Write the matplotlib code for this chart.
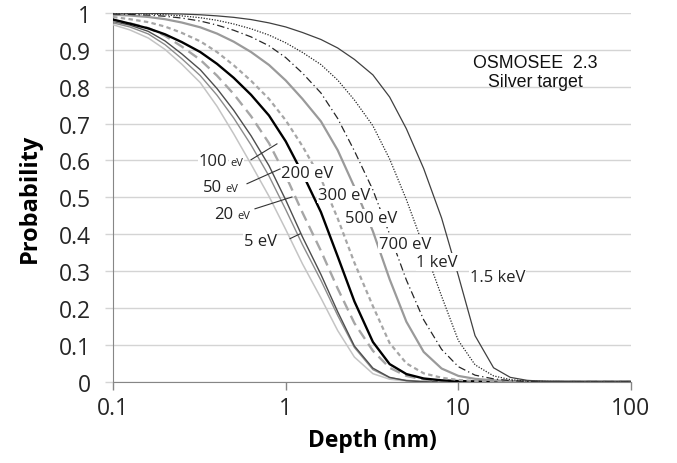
import matplotlib
matplotlib.use("Agg")
import matplotlib.pyplot as plt

# Profondeur (nm) où les valeurs ont été lues (pas de ~0.1 décade)
depth = [0.1, 0.125, 0.16, 0.2, 0.25, 0.32, 0.4, 0.5, 0.63, 0.8, 1, 1.25, 1.6, 2, 2.5,
         3.2, 4, 5, 6.3, 8, 10, 12.5, 16, 20, 25, 32, 50, 100]

# Probabilité pour chaque énergie
p_5 = [0.968, 0.954, 0.932, 0.901, 0.861, 0.811, 0.747, 0.672, 0.59, 0.503, 0.413, 0.32, 0.227, 0.139,
       0.067, 0.022, 0.007, 0.002, 0, 0, 0, 0, 0, 0, 0, 0, 0, 0]
p_20 = [0.973, 0.962, 0.943, 0.914, 0.876, 0.83, 0.777, 0.715, 0.642, 0.558, 0.467, 0.372, 0.275, 0.18,
        0.093, 0.033, 0.011, 0.004, 0.001, 0, 0, 0, 0, 0, 0, 0, 0, 0]
p_50 = [0.977, 0.967, 0.95, 0.924, 0.889, 0.846, 0.795, 0.736, 0.667, 0.586, 0.493, 0.393, 0.291, 0.19,
        0.097, 0.037, 0.012, 0.003, 0, 0, 0, 0, 0, 0, 0, 0, 0, 0]
p_100 = [0.98, 0.972, 0.959, 0.938, 0.909, 0.873, 0.83, 0.78, 0.72, 0.647, 0.559, 0.459, 0.355, 0.253,
         0.159, 0.084, 0.038, 0.016, 0.006, 0.002, 0, 0, 0, 0, 0, 0, 0, 0]
p_200 = [0.982, 0.971, 0.958, 0.942, 0.921, 0.894, 0.862, 0.824, 0.778, 0.722, 0.652, 0.565, 0.46, 0.34,
         0.218, 0.108, 0.048, 0.021, 0.009, 0.004, 0.002, 0.001, 0, 0, 0, 0, 0, 0]
p_300 = [0.989, 0.983, 0.975, 0.963, 0.946, 0.923, 0.894, 0.858, 0.816, 0.767, 0.709, 0.639, 0.551, 0.443,
         0.323, 0.205, 0.105, 0.05, 0.023, 0.011, 0.005, 0.002, 0.001, 0, 0, 0, 0, 0]
p_500 = [0.995, 0.993, 0.989, 0.983, 0.974, 0.961, 0.944, 0.922, 0.894, 0.859, 0.817, 0.767, 0.706, 0.628,
         0.528, 0.408, 0.278, 0.163, 0.081, 0.036, 0.016, 0.008, 0.004, 0.002, 0.001, 0, 0, 0]
p_700 = [0.997, 0.996, 0.994, 0.991, 0.986, 0.978, 0.967, 0.953, 0.935, 0.911, 0.879, 0.837, 0.783, 0.714,
         0.626, 0.52, 0.40, 0.276, 0.168, 0.088, 0.041, 0.018, 0.008, 0.003, 0.001, 0, 0, 0]
p_1000 = [0.998, 0.998, 0.997, 0.995, 0.992, 0.987, 0.98, 0.97, 0.957, 0.94, 0.919, 0.893, 0.86, 0.818,
          0.764, 0.694, 0.604, 0.494, 0.366, 0.232, 0.112, 0.046, 0.016, 0.006, 0.002, 0.001, 0, 0]
p_1500 = [1.0, 0.999, 0.999, 0.998, 0.997, 0.995, 0.992, 0.988, 0.982, 0.973, 0.962, 0.947, 0.928, 0.905,
          0.874, 0.832, 0.772, 0.686, 0.578, 0.444, 0.288, 0.125, 0.038, 0.012, 0.004, 0.001, 0, 0]

x_ticks = [0.1, 1, 10, 100]
x_tick_labels = ["0.1", "1", "10", "100"]
y_ticks = [0, 0.1, 0.2, 0.3, 0.4, 0.5, 0.6, 0.7, 0.8, 0.9, 1]
y_tick_labels = ["0", "0.1", "0.2", "0.3", "0.4", "0.5", "0.6", "0.7", "0.8", "0.9", "1"]

font = "Open Sans"
plt.rcParams["font.family"] = [font, "DejaVu Sans"]

fig = plt.figure(figsize=(6.77, 4.64), dpi=100)
ax = fig.add_axes([0.167, 0.175, 0.765, 0.795])

# styles des courbes (de 5 eV à 1.5 keV)
curves = [
    (p_5, dict(color="#c4c4c4", lw=1.1, ls="-")),
    (p_20, dict(color="#8c8c8c", lw=1.0, ls="-")),
    (p_50, dict(color="#4d4d4d", lw=1.0, ls="-")),
    (p_100, dict(color="#a6a6a6", lw=1.7, ls=(0, (4.5, 2.5)))),
    (p_200, dict(color="#000000", lw=1.7, ls="-")),
    (p_300, dict(color="#a6a6a6", lw=1.6, ls=(0, (2, 1.5)))),
    (p_500, dict(color="#9a9a9a", lw=1.6, ls="-")),
    (p_700, dict(color="#262626", lw=0.9, ls=(0, (6, 2.5, 1, 2.5)))),
    (p_1000, dict(color="#262626", lw=0.9, ls=(0, (1, 1.2)))),
    (p_1500, dict(color="#404040", lw=0.9, ls="-")),
]
for p, st in curves:
    ax.plot(depth, p, **st, zorder=3, solid_joinstyle="round")

ax.set_xscale("log")
ax.set_xlim(0.1, 100)
ax.set_ylim(0, 1)
ax.set_xticks(x_ticks)
ax.set_xticklabels(x_tick_labels)
ax.set_yticks(y_ticks)
ax.set_yticklabels(y_tick_labels)
ax.minorticks_off()
ax.tick_params(axis="x", length=6, width=1, color="#868686", labelsize=16.5, pad=4, labelcolor="#262626")
ax.tick_params(axis="y", length=6, width=1, color="#d4d4d4", labelsize=16.5, pad=10, labelcolor="#262626")
ax.grid(True, axis="y", color="#d4d4d4", lw=1)
ax.set_axisbelow(True)
for s in ["top", "right"]:
    ax.spines[s].set_visible(False)
ax.spines["left"].set_color("#868686")
ax.spines["bottom"].set_color("#868686")

ax.set_xlabel("Depth (nm)", fontsize=16.5, fontweight="bold", labelpad=6)
ax.set_ylabel("Probability", fontsize=17, fontweight="bold", labelpad=12)

ax.text(27.8, 0.84, "OSMOSEE  2.3\nSilver target", family="Liberation Sans", fontsize=12.8,
        ha="center", va="center", linespacing=1.15, color="#111111")

box = dict(facecolor="white", edgecolor="none", pad=0.5)
big = 12
small = 8

# étiquettes avec petit "eV" et trait de rappel
for num, xr, xl, y, tail, tip in [
    ("100", 0.457, 0.476, 0.587, (0.63, 0.602), (0.89, 0.645)),
    ("50", 0.428, 0.445, 0.518, (0.597, 0.537), (0.927, 0.577)),
    ("20", 0.495, 0.523, 0.445, (0.664, 0.469), (1.087, 0.501)),
]:
    ax.text(xr, y, num, fontsize=big, ha="right", va="baseline", bbox=box, zorder=5, color="#222222")
    ax.text(xl, y, "eV", fontsize=small, ha="left", va="baseline", bbox=box, zorder=5, color="#222222")
    ax.plot([tail[0], tip[0]], [tail[1], tip[1]], color="#333333", lw=0.8, zorder=6)

ax.text(0.71, 0.382, "5 eV", fontsize=big, ha="center", va="center", bbox=box, zorder=5, color="#222222")
ax.plot([1.059, 1.21], [0.388, 0.401], color="#333333", lw=0.8, zorder=6)

for txt, x, y in [
    ("200 eV", 1.328, 0.566),
    ("300 eV", 2.18, 0.507),
    ("500 eV", 3.12, 0.444),
    ("700 eV", 4.91, 0.374),
    ("1 keV", 7.52, 0.325),
    ("1.5 keV", 16.9, 0.285),
]:
    ax.text(x, y, txt, fontsize=big, ha="center", va="center", bbox=box, zorder=5, color="#222222")

fig.savefig("out.png", dpi=100)
